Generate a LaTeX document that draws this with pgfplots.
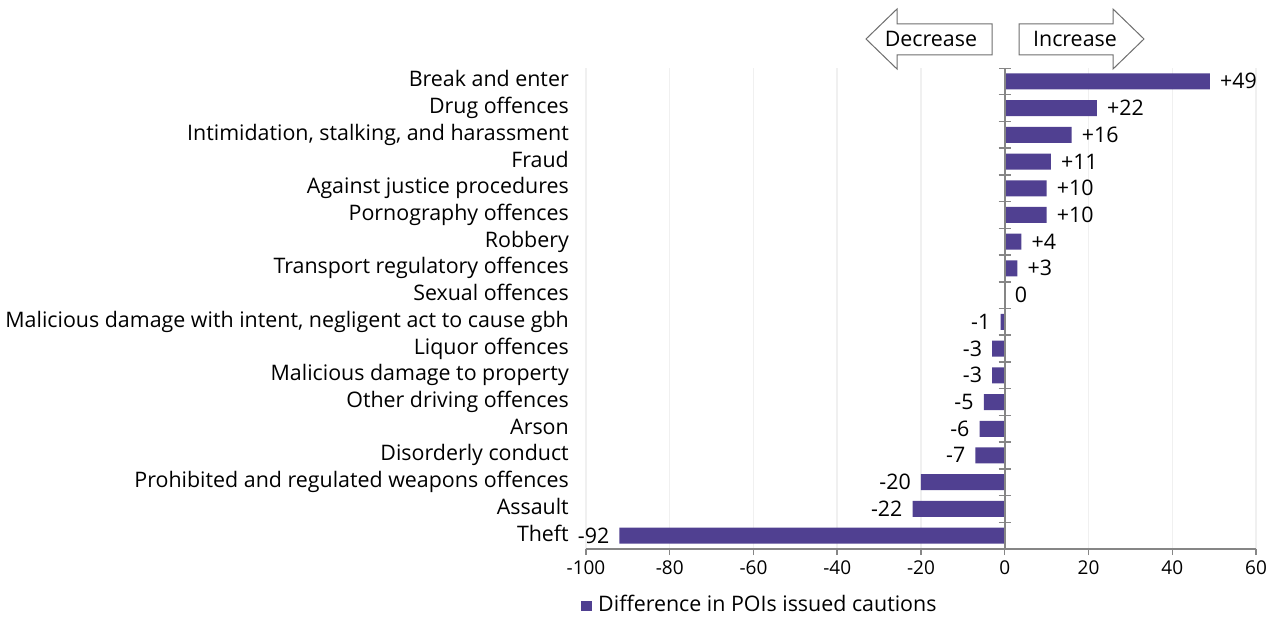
\documentclass[border=0pt]{standalone}
\usepackage{pgfplots}
\pgfplotsset{compat=1.18}
\usepackage{pgfplotstable}
\usepackage{fontspec}
\setmainfont{Open Sans}
\definecolor{barcol}{RGB}{80,64,145}
\definecolor{axgray}{RGB}{134,134,134}
\definecolor{gridgray}{RGB}{240,240,240}
\definecolor{arrgray}{RGB}{110,110,110}

\pgfplotstableread{
i v l
0 49 +49
1 22 +22
2 16 +16
3 11 +11
4 10 +10
5 10 +10
6 4 +4
7 3 +3
8 0 0
}\pos
\pgfplotstableread{
i v l
9 -1 -1
10 -3 -3
11 -3 -3
12 -5 -5
13 -6 -6
14 -7 -7
15 -20 -20
16 -22 -22
17 -92 -92
}\neg

\newcommand{\bigf}{\fontsize{21.4}{25}\selectfont}
\newcommand{\tickf}{\fontsize{19}{23}\selectfont}

\begin{document}
\bigf
\begin{tikzpicture}[x=1pt,y=1pt]
\begin{scope}[shift={(-586pt,549pt)}, yscale=-1]
\useasboundingbox (0,0) rectangle (1274,619);
\draw[arrgray, line width=1pt, fill=white] (866,39) -- (897,9) -- (897,24) -- (992,24) -- (992,55) -- (897,55) -- (897,69) -- cycle;
\node[inner sep=0pt] at (931,39) {\bigf Decrease};
\draw[arrgray, line width=1pt, fill=white] (1019,24) -- (1113,24) -- (1113,9) -- (1144,39) -- (1113,69) -- (1113,55) -- (1019,55) -- cycle;
\node[inner sep=0pt] at (1075,39) {\bigf Increase};
\end{scope}
\begin{axis}[
  at={(0,0)}, anchor=south west,
  scale only axis, width=670pt, height=481pt,
  xbar, bar width=16pt, bar shift=0pt,
  xmin=-100, xmax=60, xtick={-100,-80,...,60},
  ymin=-0.5, ymax=17.5, y dir=reverse,
  ytick={0,...,17},
  yticklabels={Break and enter, Drug offences, {Intimidation, stalking, and harassment}, Fraud, Against justice procedures, Pornography offences, Robbery, Transport regulatory offences, Sexual offences, {Malicious damage with intent, negligent act to cause gbh}, Liquor offences, Malicious damage to property, Other driving offences, Arson, Disorderly conduct, Prohibited and regulated weapons offences, Assault, Theft},
  axis x line*=bottom, axis y line*=left,
  axis line style={axgray, line width=2pt},
  y axis line style={draw=none},
  ytick style={draw=none},
  xtick style={axgray, line width=1.5pt},
  tick align=outside, major tick length=6pt,
  xmajorgrids, grid style={gridgray, line width=1.5pt},
  /pgf/number format/assume math mode=true,
  yticklabel style={font=\bigf, anchor=base east, inner sep=0pt, xshift=-11pt, yshift=-5.5pt},
  xticklabel style={font=\tickf, inner sep=0pt, yshift=-6pt},
  legend style={at={(0.2595,-0.116)}, anchor=center, draw=none, fill=none, font=\bigf, /tikz/every odd column/.style={column sep=4pt}},
  legend image code/.code={\fill[barcol] (0pt,-6pt) rectangle (11pt,4pt);},
  nodes near coords,
  point meta=explicit symbolic,
  every node near coord/.append style={font=\bigf, text=black, inner sep=0pt},
]
\addplot[fill=barcol, draw=none, every node near coord/.append style={anchor=base west, xshift=10pt, yshift=-7.5pt}] table[x=v, y=i, meta=l]{\pos};
\addlegendentry{Difference in POIs issued cautions}
\addplot[fill=barcol, draw=none, forget plot, every node near coord/.append style={anchor=base east, xshift=-10pt, yshift=-7.5pt}] table[x=v, y=i, meta=l]{\neg};
\draw[axgray, line width=2pt] (axis cs:0,-0.5) -- (axis cs:0,17.5);
\pgfplotsinvokeforeach{-0.5,0.5,...,17.5}{
  \draw[axgray, line width=1.5pt] ([xshift=-6pt]axis cs:0,#1) -- ([xshift=6pt]axis cs:0,#1);
}
\end{axis}
\end{tikzpicture}
\end{document}
